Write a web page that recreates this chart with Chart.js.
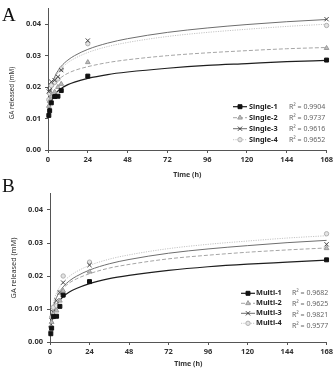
<!DOCTYPE html>
<html><head><meta charset="utf-8">
<script src="https://cdn.jsdelivr.net/npm/chart.js@4.4.0/dist/chart.umd.min.js"></script>
<style>
body{margin:0;width:335px;height:370px;background:#fff;position:relative;overflow:hidden}
.wrap{position:absolute;left:0;width:335px}
.lab{position:absolute;left:2px;font-family:"Liberation Serif","DejaVu Serif",serif;font-size:19px;color:#111;line-height:1}
</style></head><body>
<div class="wrap" style="top:0;height:183px"><canvas id="cA" width="335" height="183"></canvas></div>
<div class="wrap" style="top:185px;height:185px"><canvas id="cB" width="335" height="185"></canvas></div>
<div class="lab" style="top:5px">A</div>
<div class="lab" style="top:176px">B</div>
<script>
const timesA = [0.5, 1, 2, 4, 6, 8, 24, 168];
const single1 = [0.0110, 0.0125, 0.0150, 0.0170, 0.0171, 0.0189, 0.0235, 0.0286];
const single2 = [0.0140, 0.0155, 0.0170, 0.0185, 0.0200, 0.0210, 0.0279, 0.0324];
const single3 = [0.0186, 0.0190, 0.0217, 0.0222, 0.0233, 0.0254, 0.0348, 0.0416];
const single4 = [0.0160, 0.0180, 0.0205, 0.0215, 0.0226, 0.0258, 0.0338, 0.0396];

const timesB = [0.5, 1, 2, 4, 6, 8, 24, 168];
const multi1 = [0.0025, 0.0042, 0.0077, 0.0078, 0.0108, 0.0142, 0.0183, 0.0249];
const multi2 = [0.0035, 0.0060, 0.0085, 0.0095, 0.0125, 0.0155, 0.0213, 0.0284];
const multi3 = [0.0040, 0.0065, 0.0090, 0.0125, 0.0150, 0.0180, 0.0233, 0.0296];
const multi4 = [0.0045, 0.0075, 0.0105, 0.0110, 0.0150, 0.0200, 0.0242, 0.0328];

const fitTimes = [0.5, 1, 2, 4, 8, 12, 16, 24, 36, 48, 72, 96, 120, 144, 168];
const fitSingle1 = [0.0115,0.0135,0.0155,0.0176,0.0196,0.0208,0.0216,0.0228,0.0240,0.0248,0.0260,0.0269,0.0275,0.0281,0.0285];
const fitSingle2 = [0.0144,0.0166,0.0188,0.0209,0.0231,0.0244,0.0253,0.0265,0.0278,0.0287,0.0300,0.0309,0.0316,0.0322,0.0326];
const fitSingle3 = [0.0145,0.0168,0.0198,0.0232,0.0266,0.0286,0.0300,0.0320,0.0340,0.0354,0.0374,0.0388,0.0399,0.0408,0.0415];
const fitSingle4 = [0.0131,0.0163,0.0195,0.0227,0.0259,0.0278,0.0291,0.0310,0.0329,0.0342,0.0361,0.0374,0.0384,0.0393,0.0400];
const fitMulti1 = [0.0036,0.0061,0.0086,0.0112,0.0137,0.0152,0.0162,0.0177,0.0192,0.0202,0.0217,0.0228,0.0236,0.0242,0.0248];
const fitMulti2 = [0.0052,0.0080,0.0108,0.0136,0.0163,0.0180,0.0191,0.0207,0.0224,0.0235,0.0252,0.0263,0.0272,0.0279,0.0285];
const fitMulti3 = [0.0039,0.0071,0.0103,0.0135,0.0167,0.0186,0.0199,0.0218,0.0237,0.0250,0.0269,0.0282,0.0292,0.0301,0.0308];
const fitMulti4 = [0.0053,0.0085,0.0117,0.0149,0.0181,0.0200,0.0213,0.0232,0.0251,0.0264,0.0283,0.0296,0.0306,0.0315,0.0322];

const labelsA = ['Single-1', 'Single-2', 'Single-3', 'Single-4'];
const r2A = ['0.9904', '0.9737', '0.9616', '0.9652'];
const labelsB = ['Multi-1', 'Multi-2', 'Multi-3', 'Multi-4'];
const r2B = ['0.9682', '0.9625', '0.9821', '0.9577'];
const xTitle = 'Time (h)';
const yTitle = 'GA released (mM)';

const styles = [
  {pt:'rect', r:2.8, fill:'#111', border:'#111', line:'#1e1e1e', dash:[], lw:1.2},
  {pt:'triangle', r:2.7, fill:'#bdbdbd', border:'#9a9a9a', line:'#a5a5a5', dash:[4,2], lw:1},
  {pt:'crossRot', r:3, fill:'#444', border:'#444', line:'#6e6e6e', dash:[], lw:1},
  {pt:'circle', r:2.2, fill:'#e4e4e4', border:'#b0b0b0', line:'#c4c4c4', dash:[1.2,1.2], lw:1}
];

const customLegend = {
  id: 'customLegend',
  afterDraw(chart, args, o) {
    const ctx = chart.ctx;
    ctx.save();
    ctx.translate(o.ytX, o.ytY);
    ctx.rotate(-Math.PI / 2);
    ctx.font = o.ytFont;
    ctx.fillStyle = '#333';
    ctx.textAlign = 'center';
    ctx.textBaseline = 'middle';
    ctx.fillText(yTitle, 0, 0);
    ctx.restore();
    o.labels.forEach((lab, i) => {
      const s = styles[i];
      const y = o.y0 + i * o.dy;
      ctx.save();
      ctx.strokeStyle = s.line; ctx.lineWidth = s.lw; ctx.setLineDash(s.dash);
      ctx.beginPath(); ctx.moveTo(o.x0, y); ctx.lineTo(o.x0 + o.len, y); ctx.stroke();
      ctx.setLineDash([]);
      ctx.fillStyle = s.fill; ctx.strokeStyle = s.border; ctx.lineWidth = 1;
      Chart.helpers.drawPoint(ctx, {pointStyle: s.pt, radius: s.r, borderWidth: 1, rotation: 0}, o.x0 + o.len / 2, y);
      ctx.font = 'bold 7.3px "Noto Sans"';
      ctx.fillStyle = '#222';
      ctx.textAlign = 'left'; ctx.textBaseline = 'middle';
      ctx.fillText(lab, o.xl, y);
      ctx.font = '7px "Noto Sans"';
      ctx.fillStyle = '#666';
      ctx.fillText('R\u00B2 = ' + o.r2[i], o.xr, y + i * o.dr);
      ctx.restore();
    });
  }
};

function makeChart(id, times, series, fits, o) {
  const datasets = [];
  fits.forEach((f, i) => {
    const s = styles[i];
    datasets.push({type:'line', data: fitTimes.map((t, k) => ({x:t, y:f[k]})), borderColor: s.line,
      borderWidth: s.lw, borderDash: s.dash, pointRadius: 0, fill: false, cubicInterpolationMode: 'monotone', order: 2});
  });
  series.forEach((d, i) => {
    const s = styles[i];
    datasets.push({type:'scatter', data: times.map((t, k) => ({x:t, y:d[k]})), pointStyle: s.pt,
      pointRadius: s.r, backgroundColor: s.fill, borderColor: s.border, borderWidth: 1, order: 1});
  });
  return new Chart(document.getElementById(id), {
    data: {datasets},
    plugins: [customLegend],
    options: {
      responsive: false, animation: false, clip: false,
      layout: {padding: {top: o.padTop, right: o.padRight, left: 0, bottom: 0}},
      plugins: {legend: {display: false}, tooltip: {enabled: false}, customLegend: o.legend},
      scales: {
        x: {type: 'linear', min: 0, max: 168,
          ticks: {stepSize: 24, font: {family: 'Noto Sans', size: 7.5, weight: 'bold'}, color: '#333', padding: 2, maxRotation: 0},
          grid: {drawOnChartArea: false, drawTicks: true, tickLength: 3, color: '#555'},
          border: {display: true, color: '#555', width: 1},
          title: {display: true, text: xTitle, font: {family: 'Noto Sans', size: 7, weight: 'bold'}, color: '#333', padding: {top: 0, bottom: o.xtPad}},
          afterFit: sc => { sc.height = o.xH; }
        },
        y: {type: 'linear', min: 0, max: 0.045,
          ticks: {stepSize: 0.01, font: {family: 'Noto Sans', size: 7.5, weight: 'bold'}, color: '#333', padding: 4,
            callback: v => v.toFixed(2)},
          afterBuildTicks: sc => { sc.ticks = sc.ticks.filter(t => Math.abs(t.value * 100 - Math.round(t.value * 100)) < 1e-6); },
          grid: {drawOnChartArea: false, drawTicks: true, tickLength: 3, color: '#555'},
          border: {display: true, color: '#555', width: 1},
          afterFit: sc => { sc.width = o.yW; }
        }
      }
    }
  });
}

makeChart('cA', timesA, [single1, single2, single3, single4], [fitSingle1, fitSingle2, fitSingle3, fitSingle4], {
  padTop: 5, padRight: 7, xH: 33, yW: 48, xtPad: 4,
  legend: {labels: labelsA, r2: r2A, x0: 233, len: 14, xl: 249, xr: 289, y0: 106.7, dy: 11, dr: 0,
    ytX: 12, ytY: 93, ytFont: '6.3px "Noto Sans"'}
});
makeChart('cB', timesB, [multi1, multi2, multi3, multi4], [fitMulti1, fitMulti2, fitMulti3, fitMulti4], {
  padTop: 4, padRight: 6, xH: 28, yW: 50, xtPad: 2,
  legend: {labels: labelsB, r2: r2B, x0: 241, len: 14, xl: 256, xr: 292, y0: 108.3, dy: 10, dr: 1,
    ytX: 14, ytY: 83, ytFont: '7.3px "Noto Sans"'}
});
</script>
</body></html>
